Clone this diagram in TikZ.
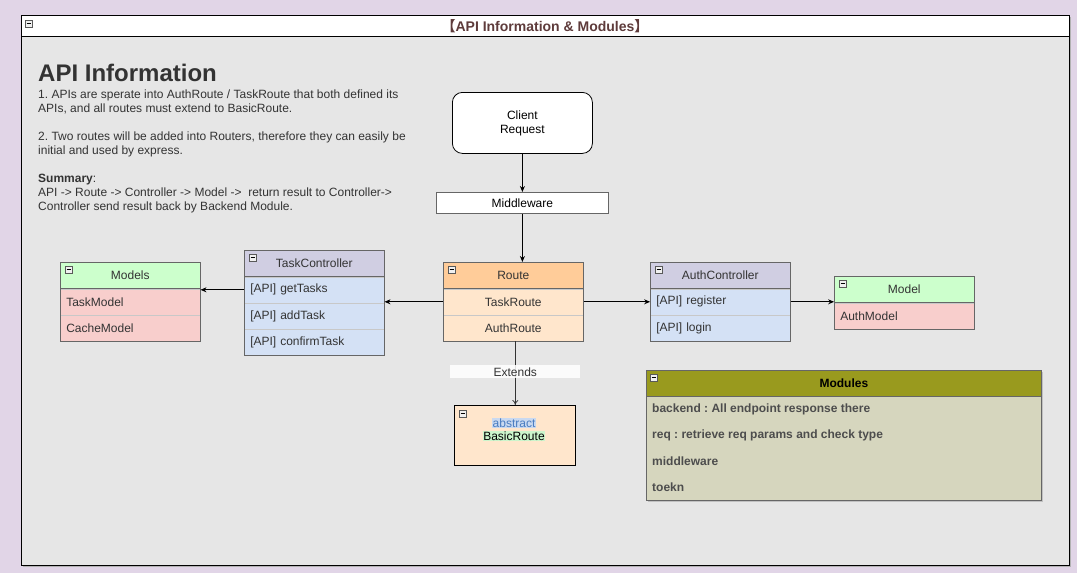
\documentclass[tikz,border=0pt]{standalone}
\usepackage{fontspec}
\setmainfont{Liberation Sans}
\newfontfamily\cjk{Noto Sans CJK SC}
\usetikzlibrary{arrows.meta,shadows}
\frenchspacing
\definecolor{bglav}{HTML}{E1D5E7}
\definecolor{bodygray}{HTML}{E6E6E6}
\definecolor{txt}{HTML}{333333}
\definecolor{titlecol}{HTML}{5E3B3B}
\definecolor{orhead}{HTML}{FFCC99}
\definecolor{orrow}{HTML}{FFE6CC}
\definecolor{puhead}{HTML}{D0CEE2}
\definecolor{blrow}{HTML}{D4E1F5}
\definecolor{grhead}{HTML}{CCFFCC}
\definecolor{pkrow}{HTML}{F8CECC}
\definecolor{olhead}{HTML}{999A1E}
\definecolor{olrow}{HTML}{D6D6BE}
\definecolor{boxline}{HTML}{666666}
\definecolor{rowline}{HTML}{C8C8C8}
\definecolor{absblue}{HTML}{4A7CC0}
\definecolor{absbg}{HTML}{C9D9F0}
\definecolor{basicbg}{HTML}{CCF5CC}
\definecolor{modtxt}{HTML}{4D4D4D}
\newcommand{\collapseicon}[2]{%
  \draw[draw=gray!70!black, fill=gray!12, line width=0.5pt] (#1,#2) rectangle ++(7,7);
  \draw[line width=0.8pt] (#1+1.5,#2+3.5) -- ++(4,0);}
\tikzset{
  tf/.style={font=\fontsize{12}{14}\selectfont, text=txt},
  hdr/.style={tf, draw=boxline, line width=0.6pt, minimum width=140pt, minimum height=26pt, inner sep=0pt, anchor=north west},
  rowc/.style={tf, draw=rowline, line width=0.4pt, minimum width=140pt, minimum height=26pt, inner sep=0pt, anchor=north},
  rowl/.style={tf, draw=rowline, line width=0.4pt, text width=128pt, inner xsep=6pt, inner ysep=0pt, minimum height=26pt, align=left, anchor=north},
  frame/.style={draw=boxline, line width=0.7pt},
  conn/.style={draw=black, line width=0.8pt, -{Stealth[length=6pt,width=5pt]}},
}
\begin{document}
\begin{tikzpicture}[x=1pt,y=-1pt]
\fill[bglav] (0,0) rectangle (1077,573);
\useasboundingbox (0,0) rectangle (1077,573);
% outer container
\fill[gray!60] (23,17) rectangle (1071,567);
\node[draw=black, line width=0.8pt, fill=bodygray, minimum width=1048pt, minimum height=550pt, inner sep=0pt, anchor=north west] (container) at (21,15) {};
\node[draw=black, line width=0.8pt, fill=white, minimum width=1048pt, minimum height=21pt, inner sep=0pt, anchor=north west] (containerhead) at (21,15) {};
\collapseicon{25}{20}
\node[font=\fontsize{14}{16}\selectfont\bfseries, text=titlecol, inner sep=0pt] (title) at (545,26) {{\cjk 【}API Information \& Modules{\cjk 】}};

% info text
\node[font=\fontsize{24}{28}\selectfont\bfseries, text=txt, anchor=base west, inner sep=0pt] (infohead) at (38,81) {API Information};
\node[tf, anchor=north west, inner sep=0pt, align=left] (infotext) at (38,90) {%
1. APIs are sperate into AuthRoute / TaskRoute that both defined its\\
APIs, and all routes must extend to BasicRoute.\\[14pt]
2. Two routes will be added into Routers, therefore they can easily be\\
initial and used by express.\\[14pt]
\textbf{Summary}:\\
API -> Route -> Controller -> Model ->\ \ return result to Controller->\\
Controller send result back by Backend Module.};

% client request and middleware
\node[draw=black, line width=0.8pt, fill=white, rounded corners=10pt, minimum width=140pt, minimum height=61pt, align=center, tf, text=black, anchor=north west] (client) at (452,92) {Client\\Request};
\node[draw=boxline, line width=0.8pt, fill=white, minimum width=172pt, minimum height=21pt, inner sep=0pt, tf, text=black, anchor=north west] (middleware) at (436,192) {Middleware};

% Route
\node[hdr, fill=orhead] (route) at (443,262) {Route};
\node[rowc, fill=orrow] (taskroute) at (route.south) {TaskRoute};
\node[rowc, fill=orrow] (authroute) at (taskroute.south) {AuthRoute};
\draw[frame] (route.north west) rectangle (authroute.south east);
\draw[frame] (route.south west) -- (route.south east);
\collapseicon{448}{266}

% TaskController
\node[hdr, fill=puhead] (taskctrl) at (244,250) {TaskController};
\node[rowl, fill=blrow] (gettasks) at (taskctrl.south) {[API] getTasks};
\node[rowl, fill=blrow] (addtask) at (gettasks.south) {[API] addTask};
\node[rowl, fill=blrow] (confirmtask) at (addtask.south) {[API] confirmTask};
\draw[frame] (taskctrl.north west) rectangle (confirmtask.south east);
\draw[frame] (taskctrl.south west) -- (taskctrl.south east);
\collapseicon{249}{254}

% Models
\node[hdr, fill=grhead] (models) at (60,262) {Models};
\node[rowl, fill=pkrow] (taskmodel) at (models.south) {TaskModel};
\node[rowl, fill=pkrow] (cachemodel) at (taskmodel.south) {CacheModel};
\draw[frame] (models.north west) rectangle (cachemodel.south east);
\draw[frame] (models.south west) -- (models.south east);
\collapseicon{65}{266}

% AuthController
\node[hdr, fill=puhead] (authctrl) at (650,262) {AuthController};
\node[rowl, fill=blrow] (register) at (authctrl.south) {[API] register};
\node[rowl, fill=blrow] (login) at (register.south) {[API] login};
\draw[frame] (authctrl.north west) rectangle (login.south east);
\draw[frame] (authctrl.south west) -- (authctrl.south east);
\collapseicon{655}{266}

% Model
\node[hdr, fill=grhead] (model) at (834,276) {Model};
\node[rowl, fill=pkrow] (authmodel) at (model.south) {AuthModel};
\draw[frame] (model.north west) rectangle (authmodel.south east);
\draw[frame] (model.south west) -- (model.south east);
\collapseicon{839}{280}

% BasicRoute
\node[draw=black, line width=0.6pt, fill=orrow, minimum width=121pt, minimum height=60pt, inner sep=0pt, anchor=north west] (basicroute) at (454,405) {};
\collapseicon{459}{410}
\node[tf, text=absblue, fill=absbg, inner sep=0.6pt] (abstractlbl) at (514,423) {abstract};
\node[tf, text=black, fill=basicbg, inner sep=0.6pt] (basiclbl) at (514,436) {BasicRoute};

% Modules
\node[draw=boxline, line width=0.7pt, fill=olrow, minimum width=395pt, minimum height=130pt, inner sep=0pt, anchor=north west,
  drop shadow={shadow xshift=2pt, shadow yshift=-2pt, fill=gray!60, opacity=0.7}] (modules) at (646,370) {};
\node[draw=boxline, line width=0.7pt, fill=olhead, minimum width=395pt, minimum height=26pt, inner sep=0pt, anchor=north west,
  font=\fontsize{12}{14}\selectfont\bfseries, text=black] (moduleshead) at (646,370) {Modules};
\collapseicon{650}{374}
\foreach \i/\t/\nm in {0/{backend : All endpoint response there}/modbackend, 1/{req : retrieve req params and check type}/modreq, 2/middleware/modmw, 3/toekn/modtoekn}{
  \node[font=\fontsize{12}{14}\selectfont\bfseries, text=modtxt, anchor=west, inner sep=0pt] (\nm) at (652,409+26*\i) {\t};
}

% connectors
\draw[conn] (client.south) -- (middleware.north);
\draw[conn] (middleware.south -| client.south) -- (route.north -| client.south);
\draw[conn] (taskroute.west) -- (taskroute.west -| gettasks.east);
\draw[conn] (gettasks.west) -- (gettasks.west -| taskmodel.east);
\draw[conn] (taskroute.east) -- (taskroute.east -| register.west);
\draw[conn] (register.east) -- (register.east -| authmodel.west);
\coordinate (extstart) at ([xshift=2pt]authroute.south);
\draw[draw=txt, line width=0.7pt, -{To[length=5pt,width=6pt]}] (extstart) -- (extstart |- basicroute.north)
  node[pos=0.48, fill=white, fill opacity=0.85, text opacity=1, tf, minimum width=130pt, minimum height=13pt, inner sep=0pt] (extendslbl) {Extends};
\end{tikzpicture}
\end{document}
